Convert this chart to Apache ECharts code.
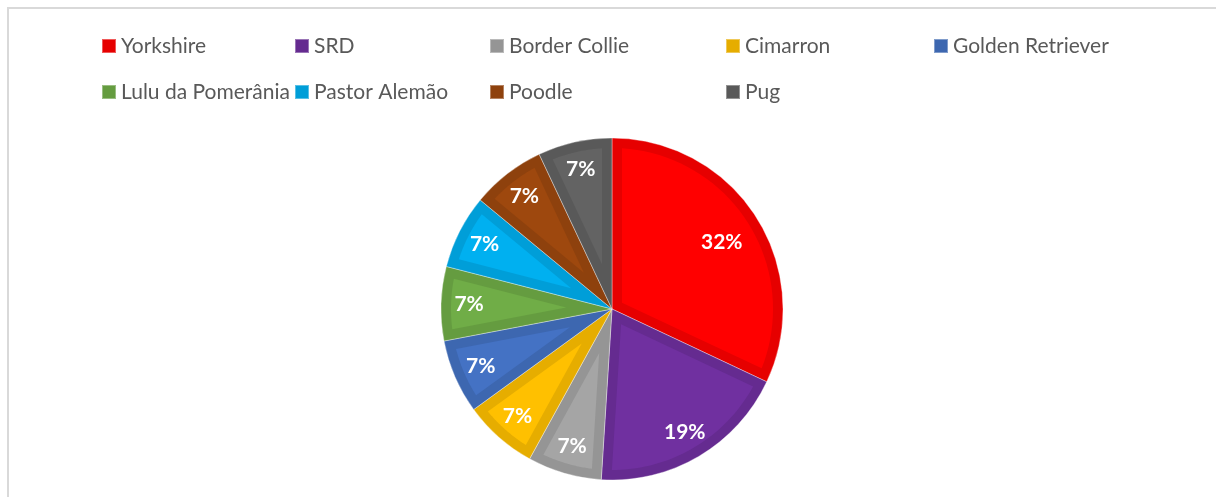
<!DOCTYPE html>
<html>
<head>
<meta charset="utf-8">
<script src="https://cdn.jsdelivr.net/npm/echarts@6/dist/echarts.min.js"></script>
<style>
  html, body { margin: 0; padding: 0; background: #fff; }
  #chart { width: 1216px; height: 497px; position: relative; }
  #frame { position: absolute; left: 7px; top: 7px; width: 1300px; height: 600px;
           border-left: 2px solid #d9d9d9; border-top: 2px solid #d9d9d9; pointer-events: none; }
</style>
</head>
<body>
<div id="chart"></div>
<div id="frame"></div>
<script>
// dados do gráfico
const racas = ['Yorkshire', 'SRD', 'Border Collie', 'Cimarron', 'Golden Retriever',
               'Lulu da Pomerânia', 'Pastor Alemão', 'Poodle', 'Pug'];
const valores = [32, 19, 7, 7, 7, 7, 7, 7, 7];
const coresClaras = ['#FF0000', '#7030A0', '#A5A5A5', '#FFC000', '#4472C4',
                     '#70AD47', '#00B0F0', '#9E480E', '#636363'];
const coresEscuras = ['#E60000', '#652B90', '#959595', '#E6AD00', '#3D67B0',
                      '#659C40', '#009ED8', '#8E410D', '#595959'];

const cx = 612, cy = 309, R = 171, faixa = 10;
const total = valores.reduce((a, b) => a + b, 0);

// ângulos acumulados (a partir do topo, sentido horário)
const inicio = [];
let acc = 0;
valores.forEach(v => { inicio.push(acc / total * Math.PI * 2); acc += v; });

function ponto(ang, d) {
  return [cx + d * Math.sin(ang), cy - d * Math.cos(ang)];
}

// miolo mais claro de cada fatia, recuado da borda
function desenhaMiolo(params, api) {
  const i = params.dataIndex;
  const s = inicio[i];
  const e = s + api.value(0) / total * Math.PI * 2;
  const h = (e - s) / 2;
  const Ri = R - faixa;
  const pts = [ponto(s + h, faixa / Math.sin(Math.min(h, Math.PI / 2)))];
  const a0 = s + Math.asin(faixa / Ri), a1 = e - Math.asin(faixa / Ri);
  const n = 40;
  for (let k = 0; k <= n; k++) pts.push(ponto(a0 + (a1 - a0) * k / n, Ri));
  return {
    type: 'polygon',
    shape: { points: pts },
    style: { fill: coresClaras[i] }
  };
}

const chart = echarts.init(document.getElementById('chart'));

const colunas = [[0, 5], [1, 6], [2, 7], [3, 8], [4]];
const xs = [101, 294, 489, 725, 933];

const pieData = racas.map((n, i) => ({ name: n, value: valores[i] }));

chart.setOption({
  animation: false,
  color: coresEscuras,
  legend: colunas.map((c, k) => ({
    orient: 'vertical',
    left: xs[k],
    top: 33,
    padding: 0,
    itemWidth: 14,
    itemHeight: 14,
    itemGap: 20,
    icon: 'rect',
    selectedMode: false,
    textStyle: { fontFamily: 'Lato', fontSize: 21, color: '#595959', lineHeight: 26 },
    data: c.map(i => racas[i])
  })),
  series: [
    {
      type: 'pie',
      center: [cx, cy],
      radius: [0, R],
      startAngle: 90,
      silent: true,
      label: { show: false },
      labelLine: { show: false },
      itemStyle: { borderWidth: 1, borderColor: 'rgba(255,255,255,0.35)' },
      data: pieData,
      z: 1
    },
    {
      type: 'custom',
      coordinateSystem: 'none',
      silent: true,
      renderItem: desenhaMiolo,
      data: valores.map(v => [v]),
      z: 2
    },
    {
      type: 'pie',
      center: [cx, cy],
      radius: [109, R],
      startAngle: 90,
      silent: true,
      avoidLabelOverlap: false,
      itemStyle: { color: 'transparent' },
      label: {
        show: true,
        position: 'inside',
        formatter: p => Math.round(p.percent) + '%',
        color: '#fff',
        fontFamily: 'Lato',
        fontWeight: 'bold',
        fontSize: 21
      },
      labelLine: { show: false },
      data: pieData.map((d, i) => ({
        name: d.name + ' ',
        value: d.value,
        // a fatia maior tem o rótulo um pouco mais para dentro
        label: i === 0 ? { offset: [-11, 10] } : undefined
      })),
      z: 3
    }
  ]
});
</script>
</body>
</html>
